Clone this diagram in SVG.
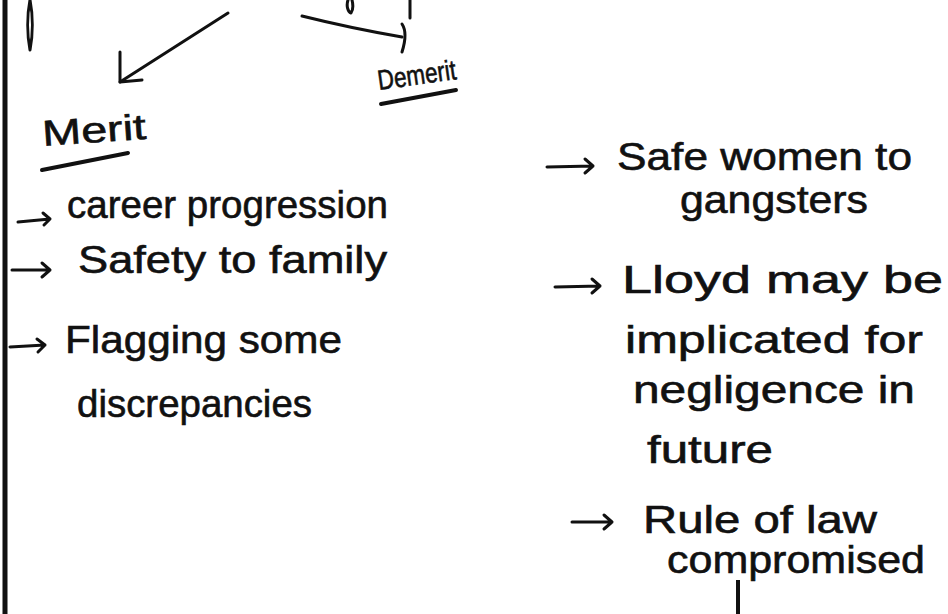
<svg xmlns="http://www.w3.org/2000/svg" width="948" height="614" viewBox="0 0 948 614">
<style>
.t{font-family:"Liberation Sans","DejaVu Sans",sans-serif;font-size:38px;fill:#111;stroke:#111;stroke-width:0.6;}
.h{font-family:"Liberation Sans","DejaVu Sans",sans-serif;fill:#111;stroke:#111;stroke-width:0.6;}
.ln{fill:none;stroke:#111;stroke-width:3;stroke-linecap:round;stroke-linejoin:round;}
.ul{fill:none;stroke:#111;stroke-width:4;stroke-linecap:round;}
</style>
<rect width="948" height="614" fill="#fff"/>
<line x1="5" y1="0" x2="5" y2="614" stroke="#111" stroke-width="5"/>
<g id="fragments">
<path class="ln" d="M30,0 C27,15 27,35 30,50 C33,35 33,15 30,0" stroke-width="2.5"/>
<path class="ln" d="M348,0 C346,6 348,12 351,13 C353,10 353,4 352,0" stroke-width="2.5"/>
<path class="ln" d="M410,0 L410,18" stroke-width="2.5"/>
<line x1="738" y1="580" x2="738" y2="614" stroke="#111" stroke-width="4"/>
</g>
<g id="connectors">
<path class="ln" d="M228,13 L120,82"/>
<path class="ln" d="M120,52 L120,82 L142,80"/>
<path class="ln" d="M302,16 Q350,28 402,37"/>
<path class="ln" d="M402,24 Q408,33 402,52"/>
</g>
<g id="merit">
<text class="h" font-size="36" x="43" y="146" textLength="104" lengthAdjust="spacingAndGlyphs" transform="rotate(-4 43 146)">Merit</text>
<path class="ul" d="M42,170 L128,153"/>
</g>
<g id="merit-1">
<path class="ln" d="M18,222 L50,219 M43,213 L50,219 L44,225"/>
<text class="t" x="67" y="218" textLength="321" lengthAdjust="spacingAndGlyphs">career progression</text>
</g>
<g id="merit-2">
<path class="ln" d="M12,270 L50,270 M42,263 L50,270 L42,277"/>
<text class="t" x="78" y="273" textLength="309" lengthAdjust="spacingAndGlyphs">Safety to family</text>
</g>
<g id="merit-3">
<path class="ln" d="M10,347 L45,345 M37,339 L45,345 L38,352"/>
<text class="t" x="65" y="353" textLength="277" lengthAdjust="spacingAndGlyphs">Flagging some</text>
<text class="t" x="77" y="417" textLength="235" lengthAdjust="spacingAndGlyphs">discrepancies</text>
</g>
<g id="demerit">
<text class="h" font-size="28" x="379" y="90" textLength="79" lengthAdjust="spacingAndGlyphs" transform="rotate(-8 379 90)">Demerit</text>
<path class="ul" d="M381,104 L456,90"/>
</g>
<g id="demerit-1">
<path class="ln" d="M547,167 L593,166 M585,159 L593,166 L585,173"/>
<text class="t" x="617" y="170" textLength="295" lengthAdjust="spacingAndGlyphs">Safe women to</text>
<text class="t" x="680" y="213" textLength="188" lengthAdjust="spacingAndGlyphs">gangsters</text>
</g>
<g id="demerit-2">
<path class="ln" d="M555,287 L600,286 M592,279 L600,286 L592,293"/>
<text class="t" x="622" y="293" textLength="321" lengthAdjust="spacingAndGlyphs">Lloyd may be</text>
<text class="t" x="625" y="353" textLength="298" lengthAdjust="spacingAndGlyphs">implicated for</text>
<text class="t" x="633" y="403" textLength="282" lengthAdjust="spacingAndGlyphs">negligence in</text>
<text class="t" x="647" y="463" textLength="126" lengthAdjust="spacingAndGlyphs">future</text>
</g>
<g id="demerit-3">
<path class="ln" d="M572,522 L612,522 M604,515 L612,522 L604,529"/>
<text class="t" x="643" y="533" textLength="234" lengthAdjust="spacingAndGlyphs">Rule of law</text>
<text class="t" x="667" y="573" textLength="258" lengthAdjust="spacingAndGlyphs">compromised</text>
</g>
</svg>
